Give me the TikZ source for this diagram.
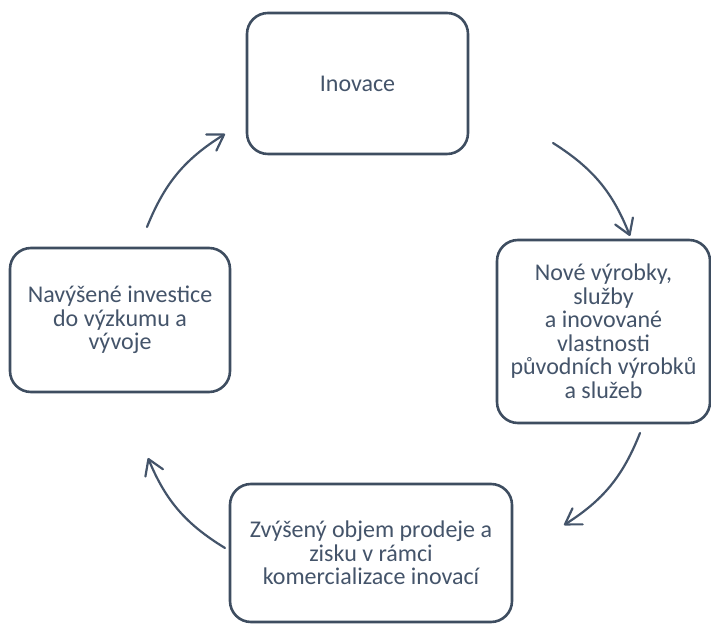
\documentclass[tikz,border=0pt]{standalone}
\usepackage{fontspec}
\setmainfont{Carlito}
\usetikzlibrary{arrows.meta}
\definecolor{slate}{HTML}{44546A}
\definecolor{edge}{HTML}{3E4D60}
\begin{document}
\begin{tikzpicture}[x=1pt,y=1pt,
  box/.style={draw=edge, line width=2.6pt, rounded corners=21pt, fill=white,
    text=slate, align=center, inner sep=0pt, font=\fontsize{24}{23.5}\selectfont},
  cyc/.style={draw=slate, line width=2.2pt, line cap=round,
    -{Straight Barb[length=15pt,width=19pt,line cap=round,line join=round]}, bend left=18}]
\useasboundingbox (0,0) rectangle (711,623);
\node[box, minimum width=221pt, minimum height=141pt] (inov) at (357.5,539.5) {Inovace};
\node[box, minimum width=213pt, minimum height=183pt] (nove) at (603.5,291.5)
  {Nové výrobky,\\služby\\a inovované\\vlastnosti\\původních  výrobků\\a služeb};
\node[box, minimum width=282pt, minimum height=138pt] (zvys) at (371,70)
  {Zvýšený objem prodeje a\\zisku v rámci\\komercializace  inovací};
\node[box, minimum width=220pt, minimum height=144pt] (navy) at (120,303)
  {Navýšené investice\\do výzkumu a\\vývoje};
\coordinate (a1s) at (553,480); \coordinate (a1e) at (630,387);
\coordinate (a2s) at (640,190); \coordinate (a2e) at (564,98);
\coordinate (a3s) at (225,75);  \coordinate (a3e) at (148,165);
\coordinate (a4s) at (147,396); \coordinate (a4e) at (225,489);
\draw[cyc] (a1s) to (a1e);
\draw[cyc] (a2s) to (a2e);
\draw[cyc] (a3s) to (a3e);
\draw[cyc] (a4s) to (a4e);
\end{tikzpicture}
\end{document}
